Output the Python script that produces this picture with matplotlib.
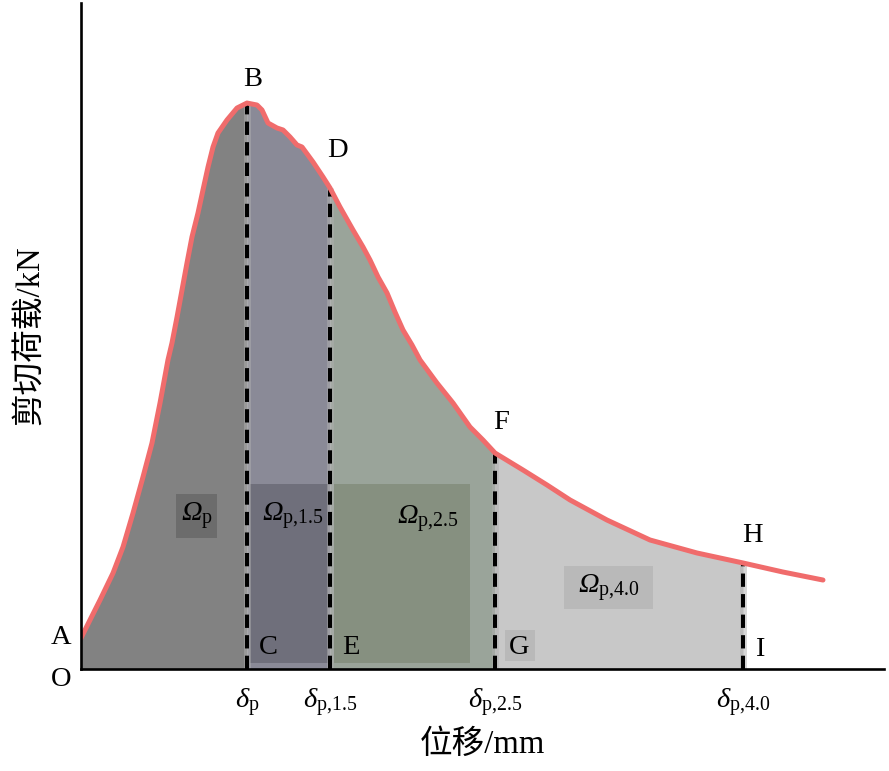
import numpy as np
import matplotlib
matplotlib.use("Agg")
import matplotlib.pyplot as plt

plt.rcParams['font.family'] = ['Liberation Serif', 'Noto Sans CJK SC', 'DejaVu Sans']
plt.rcParams['mathtext.fontset'] = 'custom'
plt.rcParams['mathtext.rm'] = 'Liberation Serif'
plt.rcParams['mathtext.it'] = 'Liberation Serif:italic'
plt.rcParams['mathtext.sf'] = 'Liberation Serif:italic'
plt.rcParams['mathtext.bf'] = 'Liberation Serif:bold'

# ---- data (arbitrary units) ----
disp = [0.000, 0.112, 0.237, 0.399, 0.523, 0.648, 0.772, 0.884, 0.984, 1.083,
        1.133, 1.196, 1.258, 1.320, 1.382, 1.457, 1.519, 1.582, 1.644, 1.706,
        1.818, 1.943, 2.067, 2.192, 2.254, 2.329, 2.441, 2.516, 2.603, 2.690,
        2.752, 2.889, 3.014, 3.101, 3.225, 3.387, 3.512, 3.599, 3.699, 3.811,
        3.910, 4.010, 4.122, 4.222, 4.433, 4.633, 4.844, 5.006, 5.156, 5.504,
        5.803, 6.090, 6.550, 7.086, 7.671, 8.244, 8.742, 9.240]
load = [0.465, 0.736, 1.036, 1.441, 1.832, 2.342, 2.883, 3.393, 3.994, 4.640,
        4.895, 5.285, 5.691, 6.096, 6.486, 6.847, 7.192, 7.538, 7.838, 8.048,
        8.243, 8.423, 8.498, 8.468, 8.393, 8.198, 8.123, 8.093, 7.988, 7.868,
        7.838, 7.613, 7.387, 7.222, 6.937, 6.592, 6.336, 6.141, 5.886, 5.646,
        5.360, 5.090, 4.865, 4.640, 4.294, 3.994, 3.634, 3.438, 3.243, 2.988,
        2.763, 2.538, 2.237, 1.937, 1.742, 1.592, 1.456, 1.336]

delta_pos = [2.067, 3.101, 5.156, 8.244]
delta_labels = [r'$\mathsf{\delta}_{\mathrm{p}}$', r'$\mathsf{\delta}_{\mathrm{p{,}1.5}}$',
                r'$\mathsf{\delta}_{\mathrm{p{,}2.5}}$', r'$\mathsf{\delta}_{\mathrm{p{,}4.0}}$']
region_colors = ['#828282', '#8a8a97', '#9aa49a', '#c8c8c8']

disp = np.array(disp)
load = np.array(load)

fig = plt.figure(figsize=(8.89, 7.71), dpi=100)
ax = fig.add_axes([81/889, 102/771, (884-81)/889, (669-3)/771])
ax.set_xlim(0, 10)
ax.set_ylim(0, 10)

bounds = [0.0] + delta_pos
for i in range(4):
    a, b = bounds[i], bounds[i+1]
    xs = np.concatenate([[a], disp[(disp > a) & (disp < b)], [b]])
    ys = np.interp(xs, disp, load)
    ax.fill_between(xs, 0, ys, color=region_colors[i], lw=0, zorder=1)

# inner darker rectangles
ax.fill_between([2.105, 3.076], 0.09, 2.78, color='#6f6f7b', lw=0, zorder=2)
ax.fill_between([3.151, 4.844], 0.09, 2.78, color='#869080', lw=0, zorder=2)
# label boxes
ax.fill_between([1.183, 1.694], 1.97, 2.63, color='#6c6c6c', lw=0, zorder=2)
ax.fill_between([6.015, 7.123], 0.90, 1.55, color='#b9b9b9', lw=0, zorder=2)
ax.fill_between([5.28, 5.65], 0.12, 0.59, color='#b9b9b9', lw=0, zorder=2)

# dashed lines
for xp in delta_pos:
    yp = np.interp(xp, disp, load)
    ax.plot([xp, xp], [0, yp], color='#b0b0b0', lw=5, alpha=0.5, zorder=3,
            solid_capstyle='butt')
    ax.plot([xp, xp], [0, yp], color='black', lw=2.9, dashes=(3.3, 1.8), zorder=4)

ax.plot(disp, load, color='#f06c6c', lw=3.6, zorder=5, solid_capstyle='round',
        solid_joinstyle='round')

for s in ['top', 'right']:
    ax.spines[s].set_visible(False)
for s in ['left', 'bottom']:
    ax.spines[s].set_linewidth(1.9)
    ax.spines[s].set_zorder(6)
ax.set_xticks([])
ax.set_yticks([])

fs = 20.5
pts = {'B': (253, 80), 'D': (337, 151), 'F': (501, 423), 'H': (752, 536),
       'A': (61, 638), 'O': (61, 680), 'C': (268, 648), 'E': (351, 648),
       'G': (519, 647), 'I': (760, 650)}
def tx(px):
    return (px - 81) / 80.3
def ty(py):
    return (669 - py) / 66.6
for k, (px, py) in pts.items():
    ax.text(tx(px), ty(py), k, ha='center', va='center', fontsize=fs, zorder=7,
            clip_on=False)

omegas = [(r'$\mathsf{\Omega}_{\mathrm{p}}$', 197, 516),
          (r'$\mathsf{\Omega}_{\mathrm{p{,}1.5}}$', 293, 516),
          (r'$\mathsf{\Omega}_{\mathrm{p{,}2.5}}$', 428, 519),
          (r'$\mathsf{\Omega}_{\mathrm{p{,}4.0}}$', 609, 588)]
for t, px, py in omegas:
    ax.text(tx(px), ty(py), t, ha='center', va='center', fontsize=fs, zorder=7)

for xp, lab in zip(delta_pos, delta_labels):
    ax.text(xp, ty(703), lab, ha='center', va='center', fontsize=fs, clip_on=False)

fig.text(482/889, 1 - 745/771, '位移/mm', ha='center', va='center', fontsize=23.5)
fig.text(30/889, 1 - 335/771, '剪切荷载/kN', ha='center', va='center', fontsize=23.5,
         rotation=90)

fig.savefig('out.png', dpi=100)
